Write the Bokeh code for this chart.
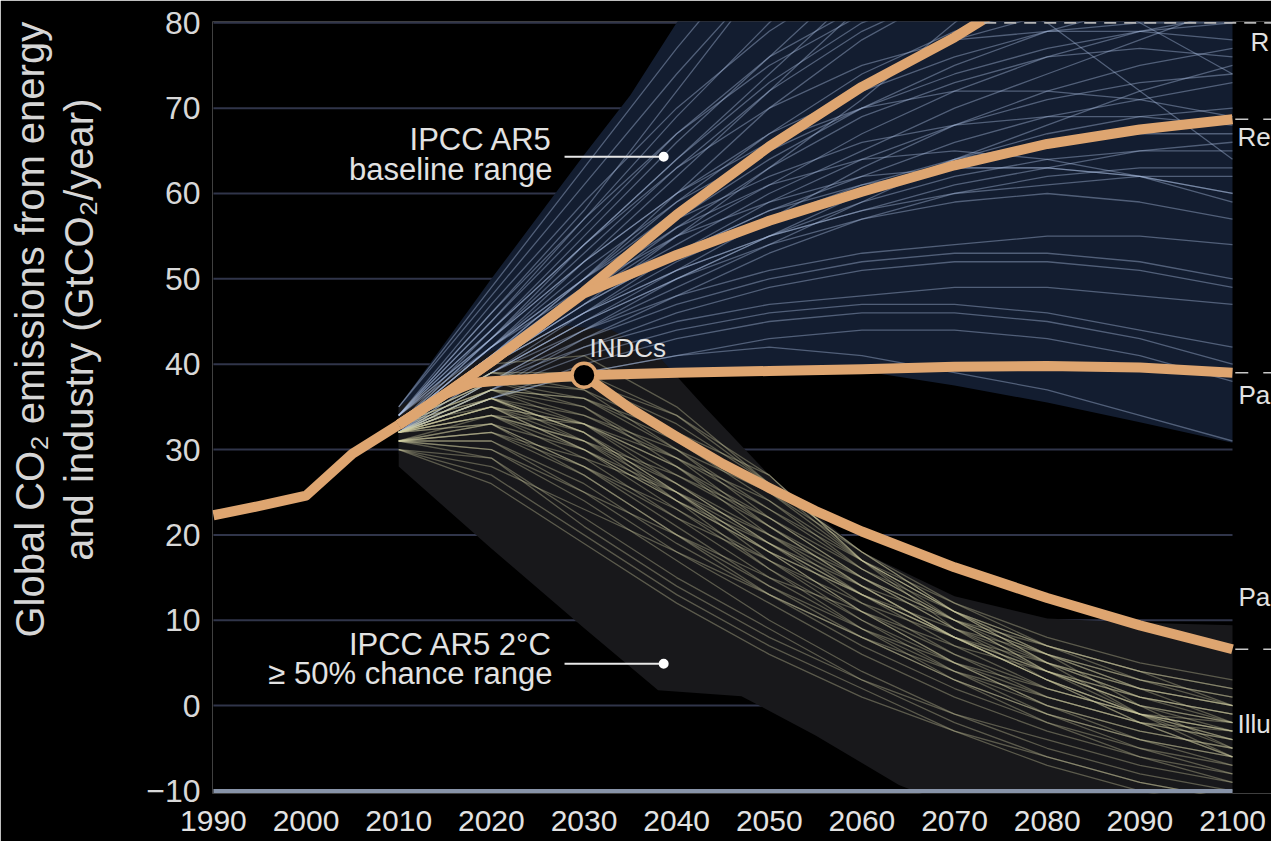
from bokeh.plotting import figure
from bokeh.models import FixedTicker, Range1d
from bokeh.core.properties import value
from bokeh.embed import file_html
from bokeh.resources import INLINE

# ---------------- data ----------------
X_TICKS = [1990, 2000, 2010, 2020, 2030, 2040, 2050, 2060, 2070, 2080, 2090, 2100]
Y_TICKS = [-10, 0, 10, 20, 30, 40, 50, 60, 70, 80]
GRID_Y = [0, 10, 20, 30, 40, 50, 60, 70, 80]

DECADES = [2010, 2020, 2030, 2040, 2050, 2060, 2070, 2080, 2090, 2100]

BASELINE_RUNS = [
    [33, 42, 52, 62, 72, 82, 92, 100, 108, 115],
    [33, 41, 49, 57, 64, 70, 75, 79, 82, 85],
    [32, 40, 47, 53, 58, 62, 66, 69, 71, 73],
    [34, 44, 55, 66, 76, 86, 95, 103, 110, 118],
    [33, 40, 46, 51, 55, 58, 60, 61, 62, 62],
    [32, 38, 43, 47, 50, 52, 53, 53, 52, 50],
    [33, 41, 50, 59, 67, 74, 79, 82, 84, 85],
    [34, 43, 52, 60, 67, 72, 76, 79, 80, 80],
    [32, 39, 45, 50, 54, 57, 59, 60, 59, 57],
    [33, 42, 51, 59, 65, 70, 74, 77, 79, 80],
    [33, 39, 44, 48, 51, 53, 54, 55, 55, 54],
    [34, 45, 57, 69, 80, 90, 98, 105, 110, 114],
    [32, 37, 41, 44, 46, 47, 47, 46, 44, 42],
    [33, 40, 48, 56, 63, 69, 73, 76, 77, 76],
    [33, 41, 48, 54, 60, 65, 70, 74, 78, 82],
    [32, 38, 44, 49, 54, 59, 64, 68, 72, 75],
    [34, 42, 50, 57, 62, 66, 68, 69, 69, 68],
    [33, 40, 47, 55, 63, 71, 80, 88, 95, 102],
    [32, 37, 42, 46, 49, 51, 52, 52, 51, 49],
    [33, 41, 49, 56, 61, 64, 65, 64, 62, 59],
    [33, 39, 45, 51, 57, 63, 68, 72, 75, 77],
    [34, 43, 53, 63, 72, 79, 84, 87, 88, 88],
    [32, 36, 40, 43, 45, 46, 46, 45, 43, 40],
    [33, 42, 50, 58, 66, 73, 78, 81, 82, 81],
    [33, 40, 46, 52, 57, 61, 64, 66, 67, 67],
    [32, 38, 44, 50, 55, 60, 64, 67, 69, 70],
    [34, 44, 54, 64, 74, 84, 94, 104, 114, 124],
    [33, 39, 45, 50, 55, 59, 62, 64, 65, 65],
    [32, 37, 43, 48, 53, 57, 60, 62, 63, 63],
    [33, 41, 50, 60, 70, 78, 84, 88, 90, 91],
    [33, 40, 47, 53, 58, 61, 63, 63, 62, 60],
    [32, 36, 39, 41, 43, 44, 44, 43, 41, 38],
    [34, 46, 58, 72, 86, 100, 112, 122, 130, 138],
    [33, 41, 48, 55, 61, 67, 72, 76, 79, 81],
    [33, 38, 42, 45, 47, 48, 49, 49, 48, 47],
    [32, 39, 46, 53, 59, 64, 68, 71, 73, 74],
    [34, 45, 56, 67, 76, 82, 84, 80, 72, 64],
    [33, 43, 54, 64, 73, 80, 84, 85, 80, 74],
    [35, 49, 63, 77, 90, 101, 110, 118, 125, 131],
    [32, 36, 39, 41, 42, 41, 39, 37, 34, 31],
    [35, 48, 61, 74, 86, 96, 104, 110, 115, 119],
    [34, 47, 59, 70, 79, 86, 90, 92, 93, 93],
    [34, 46, 57, 67, 75, 81, 85, 87, 87, 86],
    [33, 44, 54, 63, 70, 75, 78, 79, 79, 78],
    [33, 43, 52, 60, 66, 70, 72, 72, 71, 69],
    [33, 42, 49, 55, 59, 62, 63, 63, 62, 60],
    [32, 40, 46, 51, 55, 58, 61, 63, 65, 66],
]

TWO_DEG_RUNS = [
    [32, 36, 32, 25, 18, 11, 5, 0, -3, -5],
    [33, 38, 35, 28, 20, 13, 7, 2, -1, -3],
    [31, 33, 28, 21, 14, 8, 3, -1, -4, -6],
    [32, 35, 30, 23, 16, 10, 4, -1, -5, -8],
    [33, 37, 36, 31, 24, 17, 10, 4, 0, -2],
    [31, 31, 25, 18, 12, 6, 1, -3, -6, -8],
    [32, 34, 31, 26, 20, 14, 8, 3, -1, -4],
    [33, 39, 38, 33, 26, 18, 11, 5, 1, -1],
    [30, 29, 22, 15, 9, 3, -2, -6, -9, -11],
    [32, 36, 33, 27, 21, 15, 10, 6, 3, 1],
    [31, 32, 27, 20, 13, 7, 2, -2, -5, -7],
    [33, 37, 34, 29, 23, 17, 12, 7, 3, 0],
    [32, 35, 31, 25, 19, 13, 8, 4, 1, -1],
    [31, 30, 24, 17, 10, 4, -1, -5, -8, -10],
    [33, 38, 37, 32, 25, 18, 12, 8, 5, 3],
    [32, 34, 29, 22, 15, 9, 4, 0, -3, -5],
    [32, 36, 34, 30, 25, 17, 11, 6, 2, -2],
    [30, 27, 20, 13, 7, 2, -3, -7, -10, -12],
    [33, 40, 41, 35, 26, 18, 11, 6, 2, 0],
    [32, 33, 28, 22, 17, 12, 8, 5, 2, 0],
    [31, 33, 30, 25, 18, 11, 5, 0, -4, -7],
    [32, 35, 32, 26, 19, 12, 6, 1, -2, -4],
    [33, 36, 32, 25, 17, 10, 5, 1, -2, -3],
    [31, 31, 26, 19, 13, 8, 3, -1, -4, -6],
    [32, 37, 35, 29, 21, 14, 8, 3, -1, -3],
    [33, 35, 30, 24, 19, 14, 10, 7, 4, 2],
    [32, 34, 31, 27, 22, 16, 10, 4, -1, -5],
    [30, 28, 23, 18, 13, 8, 4, 1, -2, -4],
    [33, 39, 39, 34, 26, 17, 9, 3, -2, -6],
    [32, 35, 33, 28, 22, 15, 9, 4, 0, -3],
    [31, 32, 28, 23, 17, 11, 6, 2, -1, -3],
    [32, 36, 32, 24, 16, 9, 3, -2, -6, -9],
    [33, 38, 36, 30, 23, 16, 11, 7, 4, 2],
    [31, 30, 25, 20, 15, 11, 7, 4, 1, -1],
    [32, 34, 30, 24, 18, 13, 8, 4, 0, -2],
    [33, 37, 33, 26, 19, 13, 8, 3, -1, -4],
    [32, 37, 36, 32, 27, 17, 11, 7, 4, 0],
    [31, 34, 33, 28, 21, 14, 8, 3, -2, -6],
    [33, 39, 37, 30, 22, 15, 9, 5, 2, 0],
    [32, 33, 27, 20, 14, 9, 5, 2, -1, -2],
    [31, 29, 21, 14, 8, 3, -1, -4, -7, -9],
    [32, 35, 33, 29, 24, 16, 10, 6, 0, -5],
    [33, 36, 31, 24, 18, 13, 9, 6, 3, 1],
    [32, 38, 38, 34, 27, 17, 11, 5, -1, -6],
    [30, 26, 19, 12, 6, 1, -3, -6, -9, -11],
    [31, 32, 29, 25, 20, 15, 10, 5, 1, -2],
]

# envelopes
BASE_UP_YEARS = [2010, 2020, 2030, 2035, 2040, 2050, 2100]
BASE_UP = [35, 50, 64.5, 71.5, 80, 95, 170]
BASE_LOW_YEARS = [2010, 2020, 2030, 2040, 2050, 2060, 2070, 2080, 2090, 2100]
BASE_LOW = [29.5, 33, 36.5, 38.5, 39.3, 39.2, 37.5, 35.5, 33.2, 30.8]

TWO_UP_YEARS = [2010, 2020, 2028, 2033, 2038, 2043, 2050, 2060, 2070, 2080, 2090, 2100]
TWO_UP = [35, 41.5, 44.5, 44, 41, 35, 27, 18, 12.8, 10.2, 9.7, 9.4]
TWO_LOW_YEARS = [2010, 2020, 2030, 2038, 2047, 2055, 2064, 2068, 2100]
TWO_LOW = [28, 18.4, 9.1, 1.8, 1.1, -3.5, -9.3, -11, -11]

# highlighted pathways
HIST_YEARS = [1990, 1995, 2000, 2005, 2010]
HIST = [22.3, 23.4, 24.6, 29.5, 32.9]

REF_HIGH_YEARS = [2010, 2015, 2020, 2025, 2030, 2040, 2050, 2060, 2070, 2080]
REF_HIGH = [32.9, 36.5, 40.3, 44.3, 48.5, 57.5, 65.5, 72.5, 78.3, 85]

REF_LOW_YEARS = [2010, 2015, 2020, 2025, 2030, 2040, 2050, 2060, 2070, 2080, 2090, 2100]
REF_LOW = [32.9, 36.5, 40.3, 44.3, 48.3, 52.8, 56.8, 60.2, 63.3, 65.8, 67.5, 68.7]

INDC_YEARS = [2010, 2015, 2018, 2020, 2025, 2030, 2040, 2050, 2060, 2070, 2080, 2090, 2100]
INDC = [32.9, 36.5, 37.8, 38.0, 38.3, 38.7, 39.0, 39.2, 39.4, 39.7, 39.8, 39.6, 39.0]

PARIS_UP_YEARS = [2030, 2035, 2040, 2045, 2050, 2055, 2060, 2070, 2080, 2090, 2100]
PARIS_UP = [38.7, 34.8, 31.5, 28.3, 25.5, 22.8, 20.4, 16.2, 12.6, 9.4, 6.6]

INDC_POINT = (2030, 38.7)

RIGHT_LABELS = ["R", "Re", "Pa", "Pa", "Illu"]
RIGHT_LABEL_Y = [77.7, 66.6, 36.4, 12.7, -2.2]
RIGHT_LABEL_X = [2101.95, 2100.55, 2100.65, 2100.65, 2100.55]

# ---------------- styles ----------------
ORANGE = "#dea570"
GRID = "#30354a"
TXT = "#e2e2e2"
SANS = "Liberation Sans"
X0, X1 = 1989.9, 2104.21

p = figure(width=1271, height=841,
           x_range=Range1d(X0, X1), y_range=Range1d(-10.3, 80.15),
           output_backend="svg", toolbar_location=None,
           background_fill_color="black", border_fill_color="black",
           min_border_left=212, min_border_right=0, min_border_top=21, min_border_bottom=48)
p.outline_line_color = None
p.grid.visible = False

# gridlines
for gy in GRID_Y:
    p.line([1990, 2100], [gy, gy], line_color=GRID, line_width=2)

# envelopes
p.patch(BASE_UP_YEARS + BASE_LOW_YEARS[::-1], BASE_UP + BASE_LOW[::-1],
        fill_color="#131d30", line_color=None)
p.patch(TWO_UP_YEARS + TWO_LOW_YEARS[::-1], TWO_UP + TWO_LOW[::-1],
        fill_color="#18181b", line_color=None)

# scenario fans
p.multi_line(xs=[DECADES] * len(BASELINE_RUNS), ys=BASELINE_RUNS,
             line_color="#b0c4e6", line_alpha=0.4, line_width=1.3)
p.multi_line(xs=[DECADES] * len(TWO_DEG_RUNS), ys=TWO_DEG_RUNS,
             line_color="#d4d0a4", line_alpha=0.36, line_width=1.3)

# bottom line at -10
p.line([1990, 2100], [-10, -10], line_color="#8793a8", line_width=4)

# highlighted pathways
for xs, ys in [(HIST_YEARS, HIST), (REF_HIGH_YEARS, REF_HIGH), (REF_LOW_YEARS, REF_LOW),
               (INDC_YEARS, INDC), (PARIS_UP_YEARS, PARIS_UP)]:
    p.line(xs, ys, line_color=ORANGE, line_width=10, line_join="round")

p.scatter([INDC_POINT[0]], [INDC_POINT[1]], size=24, fill_color="black",
          line_color=ORANGE, line_width=3.5)
p.text([2030.6], [41.9], text=["INDCs"], text_font=value(SANS), text_font_size="26px",
       text_color=TXT, text_align="left", text_baseline="middle")

# callouts
p.text([2026.6, 2026.6], [66.3, 62.8], text=["IPCC AR5", "baseline range"],
       text_font=value(SANS), text_font_size="31px", text_color=TXT,
       text_align="right", text_baseline="middle")
p.text([2026.6, 2026.6], [7.2, 3.8], text=["IPCC AR5 2°C", "≥ 50% chance range"],
       text_font=value(SANS), text_font_size="31px", text_color=TXT,
       text_align="right", text_baseline="middle")
for ly in [64.3, 4.9]:
    p.line([2027.9, 2038.6], [ly, ly], line_color="#e8e8e8", line_width=2)
    p.scatter([2038.6], [ly], size=10, fill_color="white", line_color=None)

# right-hand leaders and labels
p.line([2073.2, X1], [80, 80], line_color="#b5b5b5", line_width=1.8, line_dash="12 8")
for ly in [68.7, 39.0, 6.6]:
    p.line([2100.3, X1], [ly, ly], line_color="#c8c8c8", line_width=1.5, line_dash="13 15")
p.text(RIGHT_LABEL_X, RIGHT_LABEL_Y, text=RIGHT_LABELS, text_font=value(SANS),
       text_font_size="26px", text_color=TXT, text_align="left", text_baseline="middle")

# axes
p.xaxis.ticker = FixedTicker(ticks=X_TICKS)
p.xaxis.major_label_text_font = SANS
p.xaxis.major_label_text_font_size = "30px"
p.xaxis.major_label_text_color = TXT
p.xaxis.major_label_standoff = 11
p.xaxis.major_tick_line_color = None
p.xaxis.minor_tick_line_color = None
p.xaxis.axis_line_color = None

p.yaxis.ticker = FixedTicker(ticks=Y_TICKS)
p.yaxis.major_label_overrides = {-10: "−10"}
p.yaxis.major_label_text_font = SANS
p.yaxis.major_label_text_font_size = "32px"
p.yaxis.major_label_text_color = "#d8d8d8"
p.yaxis.major_label_standoff = 6
p.yaxis.major_tick_line_color = None
p.yaxis.minor_tick_line_color = None
p.yaxis.axis_line_color = None
PAD = "\u00a0" * 14
p.yaxis.axis_label = PAD + "Global CO₂ emissions from energy\n" + PAD + "and industry (GtCO₂/year)"
p.yaxis.axis_label_text_font = SANS
p.yaxis.axis_label_text_font_size = "40px"
p.yaxis.axis_label_text_font_style = "normal"
p.yaxis.axis_label_text_color = "#d6d6d6"
p.yaxis.axis_label_standoff = 42
p.yaxis.axis_label_text_line_height = 1.12

open("out.html", "w").write(file_html(p, INLINE))
